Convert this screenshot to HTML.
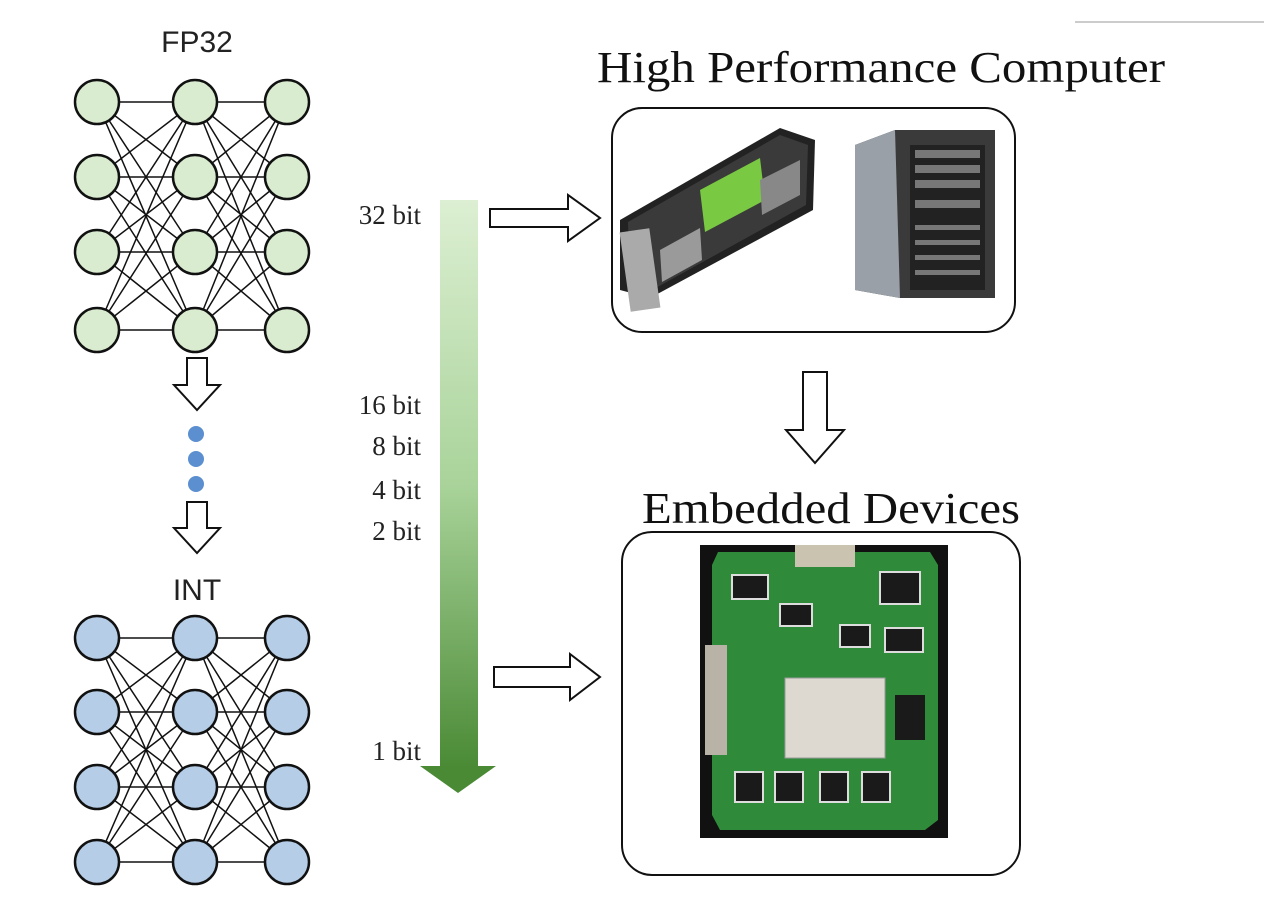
<!DOCTYPE html>
<html><head><meta charset="utf-8"><style>
html,body{margin:0;padding:0;background:#fff;}
svg{display:block;}
</style></head><body>
<svg width="1264" height="902" viewBox="0 0 1264 902" xmlns="http://www.w3.org/2000/svg">
<defs>
<linearGradient id="g" x1="0" y1="0" x2="0" y2="1">
<stop offset="0" stop-color="#dcefd2"/><stop offset="0.5" stop-color="#a9d39a"/><stop offset="1" stop-color="#4a8a35"/>
</linearGradient>
</defs>
<line x1="1075" y1="22" x2="1264" y2="22" stroke="#ccc" stroke-width="2"/>
<text x="197" y="52" font-family="Liberation Sans, sans-serif" font-size="30" text-anchor="middle" fill="#222">FP32</text>
<text x="197" y="600" font-family="Liberation Sans, sans-serif" font-size="30" text-anchor="middle" fill="#222">INT</text>
<script>
(function(){
var s="http://www.w3.org/2000/svg",svg=document.currentScript.parentNode;
function net(rows,fill){
 var cols=[97,195,287];
 var g=document.createElementNS(s,"g");g.setAttribute("stroke","#111");g.setAttribute("stroke-width","1.5");
 for(var c=0;c<2;c++)for(var i=0;i<4;i++)for(var j=0;j<4;j++){
  var l=document.createElementNS(s,"line");
  l.setAttribute("x1",cols[c]);l.setAttribute("y1",rows[i]);l.setAttribute("x2",cols[c+1]);l.setAttribute("y2",rows[j]);g.appendChild(l);}
 for(var c=0;c<3;c++)for(var i=0;i<4;i++){
  var e=document.createElementNS(s,"circle");e.setAttribute("cx",cols[c]);e.setAttribute("cy",rows[i]);e.setAttribute("r",22);
  e.setAttribute("fill",fill);e.setAttribute("stroke-width","2.5");g.appendChild(e);}
 svg.appendChild(g);
}
net([102,177,252,330],"#d9ecd0");
net([638,712,787,862],"#b5cde6");
})();
</script>
<g fill="#fff" stroke="#111" stroke-width="2">
<polygon points="187,358 207,358 207,385 220,385 197,410 174,385 187,385"/>
<polygon points="187,502 207,502 207,528 220,528 197,553 174,528 187,528"/>
<polygon points="803,372 827,372 827,430 844,430 815,463 786,430 803,430"/>
<polygon points="490,209 568,209 568,195 600,218 568,241 568,227 490,227"/>
<polygon points="494,667 570,667 570,654 600,677 570,700 570,687 494,687"/>
</g>
<circle cx="196" cy="434" r="8" fill="#5b8fd0"/>
<circle cx="196" cy="459" r="8" fill="#5b8fd0"/>
<circle cx="196" cy="484" r="8" fill="#5b8fd0"/>
<rect x="440" y="200" width="38" height="568" fill="url(#g)"/>
<polygon points="420,766 496,766 458,793" fill="#4a8a35"/>
<g font-family="Liberation Serif, serif" font-size="27" fill="#222" text-anchor="end">
<text x="421" y="224">32 bit</text>
<text x="421" y="414">16 bit</text>
<text x="421" y="455">8 bit</text>
<text x="421" y="499">4 bit</text>
<text x="421" y="540">2 bit</text>
<text x="421" y="760">1 bit</text>
</g>
<g font-family="Liberation Serif, serif" fill="#111">
<text x="597" y="82" font-size="44" textLength="568" lengthAdjust="spacingAndGlyphs">High Performance Computer</text>
<text x="642" y="523" font-size="44" textLength="378" lengthAdjust="spacingAndGlyphs">Embedded Devices</text>
</g>
<rect x="612" y="108" width="403" height="224" rx="30" fill="none" stroke="#111" stroke-width="2"/>
<rect x="622" y="532" width="398" height="343" rx="30" fill="none" stroke="#111" stroke-width="2"/>
<polygon points="620,220 780,128 815,140 813,210 650,298 620,290" fill="#222"/>
<polygon points="628,222 780,135 808,145 806,205 652,290 630,285" fill="#3a3a3a"/>
<polygon points="700,190 760,158 765,200 705,232" fill="#7ac943"/>
<polygon points="660,250 700,228 702,260 662,282" fill="#9a9a9a"/>
<polygon points="760,180 800,160 800,195 762,215" fill="#888"/>
<rect x="625" y="230" width="30" height="80" fill="#aaa" transform="rotate(-8 640 270)"/>
<polygon points="855,145 895,130 995,130 995,298 900,298 855,290" fill="#3a3a3a"/>
<polygon points="855,145 895,130 900,298 855,290" fill="#9aa0a8"/>
<rect x="910" y="145" width="75" height="145" fill="#222"/>
<g fill="#777"><rect x="915" y="150" width="65" height="8"/><rect x="915" y="165" width="65" height="8"/><rect x="915" y="180" width="65" height="8"/><rect x="915" y="200" width="65" height="8"/>
<rect x="915" y="225" width="65" height="5"/><rect x="915" y="240" width="65" height="5"/><rect x="915" y="255" width="65" height="5"/><rect x="915" y="270" width="65" height="5"/></g>
<rect x="700" y="545" width="248" height="293" fill="#111"/>
<polygon points="718,552 930,552 938,565 938,820 925,830 720,830 712,815 712,565" fill="#2f8a3a"/>
<rect x="795" y="545" width="60" height="22" fill="#c9c3b0"/>
<rect x="705" y="645" width="22" height="110" fill="#b8b3a6"/>
<rect x="785" y="678" width="100" height="80" fill="#ddd9d0" stroke="#999"/>
<g fill="#1a1a1a" stroke="#ddd" stroke-width="2">
<rect x="732" y="575" width="36" height="24"/><rect x="880" y="572" width="40" height="32"/>
<rect x="780" y="604" width="32" height="22"/><rect x="840" y="625" width="30" height="22"/><rect x="885" y="628" width="38" height="24"/>
<rect x="735" y="772" width="28" height="30"/><rect x="775" y="772" width="28" height="30"/><rect x="820" y="772" width="28" height="30"/><rect x="862" y="772" width="28" height="30"/>
</g>
<rect x="895" y="695" width="30" height="45" fill="#1a1a1a"/>
</svg>
</body></html>
